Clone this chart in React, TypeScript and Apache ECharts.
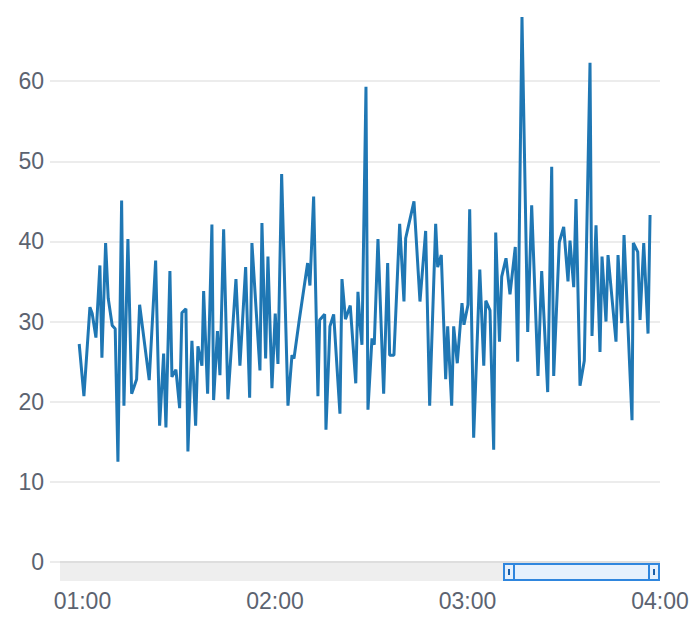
import React, { useEffect, useRef } from "react";
import * as echarts from "echarts";

// minutes since 00:00 for each sample
const minutes: number[] = [
  59.0, 60.47, 62.34, 63.05, 64.21, 65.45, 66.08, 67.23, 68.04, 69.29,
  70.22, 71.07, 72.22, 72.94, 74.18, 75.34, 76.05, 76.89, 77.83, 80.82,
  82.82, 84.06, 85.31, 86.03, 87.27, 87.9, 89.14, 90.3, 91.01, 92.26,
  92.88, 94.13, 95.28, 96.0, 97.25, 97.78, 99.02, 100.36, 100.89, 102.08,
  102.86, 104.01, 105.35, 107.85, 109.09, 110.87, 112.12, 112.83, 115.33, 115.95,
  117.1, 117.82, 119.07, 120.09, 120.94, 122.09, 124.06, 125.31, 125.93, 127.58,
  130.19, 130.91, 132.06, 133.4, 133.93, 135.49, 135.9, 137.14, 138.3, 140.26,
  140.89, 141.98, 143.47, 145.19, 145.87, 146.5, 147.12, 148.37, 148.99, 150.24,
  150.95, 152.11, 153.88, 155.13, 155.75, 157.09, 158.87, 160.21, 160.74, 163.33,
  165.2, 166.97, 168.22, 170.09, 170.72, 171.84, 173.21, 173.83, 175.08, 175.7,
  176.82, 178.29, 178.91, 180.16, 180.69, 181.93, 183.84, 185.08, 185.71, 187.02,
  188.17, 188.8, 189.98, 190.67, 192.01, 193.25, 194.9, 195.65, 196.99, 198.77,
  200.01, 201.98, 203.13, 205.0, 206.25, 206.87, 208.62, 209.99, 211.33, 211.95,
  213.11, 213.82, 215.07, 216.41, 218.19, 218.81, 220.06, 221.3, 221.93, 223.17,
  223.8, 226.29, 226.92, 228.07, 228.79, 231.28, 231.69, 233.06, 233.78, 234.93,
  236.27, 236.9,
];

const values: number[] = [
  27.2, 20.7, 31.8, 31.0, 28.0, 37.0, 25.5, 39.8, 32.9, 29.5,
  29.1, 12.5, 45.1, 19.5, 40.3, 21.0, 21.8, 22.8, 32.1, 22.7,
  37.6, 17.0, 26.0, 16.8, 36.3, 23.1, 24.0, 19.2, 31.1, 31.6,
  13.8, 27.6, 17.0, 26.9, 24.5, 33.8, 21.0, 42.1, 20.2, 28.8,
  23.3, 41.5, 20.3, 35.3, 24.5, 36.8, 20.5, 39.8, 23.9, 42.3,
  25.4, 38.1, 21.7, 31.0, 24.7, 48.4, 19.5, 25.8, 25.4, 30.2,
  37.3, 34.5, 45.6, 20.7, 30.2, 30.9, 16.5, 29.4, 30.9, 18.5,
  35.3, 30.3, 32.0, 22.3, 33.7, 29.8, 27.1, 59.3, 19.0, 27.9,
  27.1, 40.3, 21.0, 37.3, 25.8, 25.8, 42.2, 32.5, 40.4, 45.0,
  32.5, 41.3, 19.5, 42.2, 36.8, 38.3, 22.8, 29.4, 19.5, 29.4,
  24.8, 32.3, 29.6, 32.1, 44.0, 15.5, 36.5, 24.5, 32.6, 31.4,
  14.0, 41.1, 27.5, 35.6, 37.9, 33.4, 39.3, 25.0, 68.0, 28.7,
  44.5, 23.2, 36.3, 21.2, 49.3, 23.2, 39.9, 41.8, 35.0, 40.1,
  34.3, 45.3, 22.0, 25.1, 62.3, 28.2, 42.0, 26.2, 38.1, 30.0,
  38.3, 27.5, 38.3, 29.8, 40.8, 17.7, 39.8, 38.7, 30.2, 39.8,
  28.5, 43.3,
];

// axis window (minutes since 00:00) and hour tick labels
const axisStartMinute = 49.9;
const axisEndMinute = 240;
const hourTickMinutes: number[] = [60, 120, 180, 240];
const yTickInterval = 10;

const fmtMinutes = (m: number) => {
  const h = Math.floor(Math.round(m) / 60);
  const mm = Math.round(m) % 60;
  return `${String(h).padStart(2, "0")}:${String(mm).padStart(2, "0")}`;
};

export default function App() {
  const ref = useRef<HTMLDivElement>(null);

  useEffect(() => {
    document.body.style.margin = "0";
    if (!ref.current) return;
    const chart = echarts.init(ref.current, undefined, { renderer: "svg" });
    const data = minutes.map((m, i) => [m, values[i]]);
    const labelColor = "#5c6370";
    const font = "'Liberation Sans', Arial, Helvetica, sans-serif";

    chart.setOption({
      animation: false,
      grid: { left: 50, right: 38, top: 17, bottom: 60, containLabel: false },
      xAxis: {
        type: "value",
        min: axisStartMinute,
        max: axisEndMinute,
        axisLine: { show: false },
        axisTick: { show: false },
        splitLine: { show: false },
        axisLabel: {
          customValues: hourTickMinutes,
          formatter: (v: number) => fmtMinutes(v),
          fontSize: 23,
          fontFamily: font,
          color: labelColor,
          margin: 27,
          hideOverlap: false,
        },
      },
      yAxis: {
        type: "value",
        min: 0,
        max: "dataMax",
        interval: yTickInterval,
        axisLine: { show: false },
        axisTick: { show: false },
        splitLine: { showMaxLine: false, lineStyle: { color: "#E6E6E6", width: 1.5 } },
        axisLabel: {
          fontSize: 23,
          fontFamily: font,
          color: labelColor,
          margin: 6,
          showMaxLabel: false,
        },
      },
      series: [
        {
          type: "line",
          data,
          showSymbol: false,
          symbol: "none",
          lineStyle: { color: "#1f77b4", width: 3 },
          itemStyle: { color: "#1f77b4" },
        },
      ],
      graphic: [
        {
          type: "group",
          z: 100,
          children: [
            { type: "rect", shape: { x: 60, y: 561, width: 600, height: 20 }, style: { fill: "#eeeeee" } },
            { type: "rect", shape: { x: 60, y: 561, width: 600, height: 2 }, style: { fill: "#c8c8c8" } },
            {
              type: "rect",
              shape: { x: 504, y: 564, width: 155, height: 16 },
              style: { fill: "#e6f1fd", stroke: "#2f86de", lineWidth: 2 },
            },
            {
              type: "rect",
              shape: { x: 504, y: 564, width: 10, height: 16 },
              style: { fill: "#e6f1fd", stroke: "#2f86de", lineWidth: 2 },
            },
            { type: "rect", shape: { x: 508, y: 569, width: 2, height: 6 }, style: { fill: "#1a5fa8" } },
            {
              type: "rect",
              shape: { x: 649, y: 564, width: 10, height: 16 },
              style: { fill: "#e6f1fd", stroke: "#2f86de", lineWidth: 2 },
            },
            { type: "rect", shape: { x: 653, y: 569, width: 2, height: 6 }, style: { fill: "#1a5fa8" } },
          ],
        },
      ],
    });

    return () => chart.dispose();
  }, []);

  return <div ref={ref} style={{ width: 698, height: 622 }} />;
}
